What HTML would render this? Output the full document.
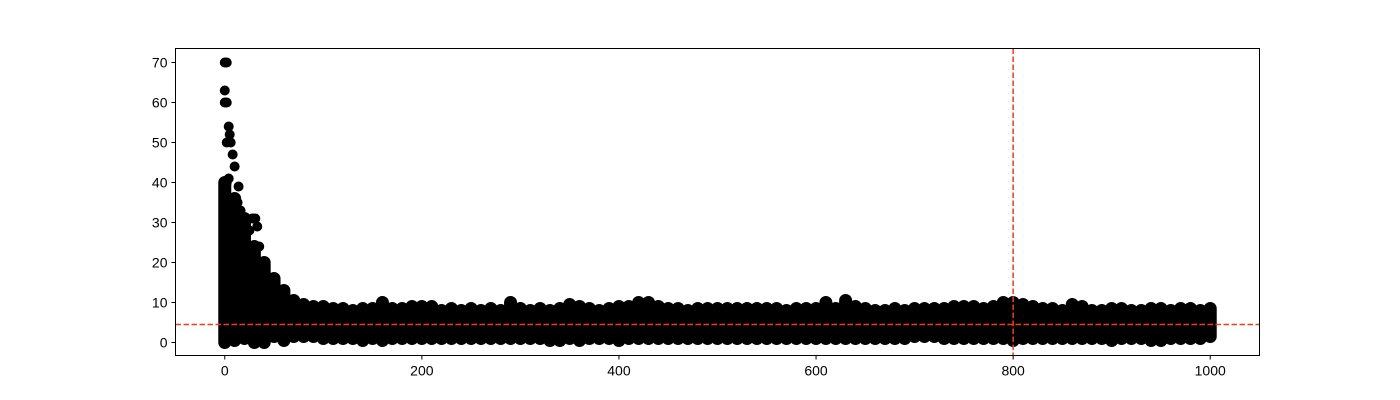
<!DOCTYPE html>
<html><head><meta charset="utf-8"><style>
html,body{margin:0;padding:0;background:#fff;width:1400px;height:400px;overflow:hidden}
svg text{font-family:"Liberation Sans",sans-serif;font-size:14px;fill:#000}
</style></head><body>
<svg id="chart" width="1400" height="400" xmlns="http://www.w3.org/2000/svg">
<rect x="0" y="0" width="1400" height="400" fill="#fff"/>
<g id="marks"></g>
<g id="refs"></g>
<rect x="175.5" y="48.5" width="1084" height="307" fill="none" stroke="#000" stroke-width="1"/>
<g id="xticks"></g>
<g id="yticks"></g>
</svg>
<script>
const binX = [0,10,20,30,40,50,60,70,80,90,100,110,120,130,140,150,160,170,180,190,200,210,220,230,240,250,260,270,280,290,300,310,320,330,340,350,360,370,380,390,400,410,420,430,440,450,460,470,480,490,500,510,520,530,540,550,560,570,580,590,600,610,620,630,640,650,660,670,680,690,700,710,720,730,740,750,760,770,780,790,800,810,820,830,840,850,860,870,880,890,900,910,920,930,940,950,960,970,980,990,1000];
const binHi = [40,36,31,24,20,16,13,10.5,9.5,9,9,8.5,8.5,8,8.5,8.5,10,8.5,8.5,9,9,9,8,8.5,8,8.5,8,8.5,8,10,8.5,8,8.5,8,8.5,9.5,9,8.5,8,8.5,9,9,10,10,9,8.5,8.5,8,8.5,8.5,8.5,8.5,8.5,8.5,8.5,8.5,8.5,8,8.5,8.5,8.5,10,8.5,10.5,9,8.5,8,8,8.5,8,8.5,8.5,8.5,8.5,9,9,9,8.5,9,10,10,9.5,9,8.5,8.5,8,9.5,9,8,8,8.5,8.5,8,8,8.5,8.5,8,8.5,8.5,8,8.5];
const binLo = [0,0.5,1,0,0,1.5,0.5,1.5,1.5,1.5,1,1,1,1,0.5,1,0.5,1,1,1,1,1,1,1,1,1,1,1,1,1,1,1,1,0.5,0.5,1,0.5,1,1,1,0.5,1,1,1,1,1,1,1,1,1,1,1,1,1,1,1,1,1,1,1,1,1,1,1,1,1,1,1,1,1,1.5,1.5,1.5,1,1,1,1,1,1,1,0.5,1,1,1,1,1,1,1,1,1,0.5,1,1,1,0.5,0.5,1,1,1,1,1.5];
const spikeX = [0,2,0,0,2,4,5,2,6,8,10,2,4,14,13,16,28,31,33,35,20,25,5,8,12,18];
const spikeY = [70,70,63,60,60,54,52,50,50,47,44,40,41,39,35,33,31,31,29,24,30,28,36,33,30,26];
const xTicks = [0,200,400,600,800,1000];
const yTicks = [0,10,20,30,40,50,60,70];
const hLine = 4.5, vLine = 800;
const NS="http://www.w3.org/2000/svg";
const L=175.5,R=1259.5,T=48.5,B=355.5, X0=-50,X1=1050,Y0=-3.25,Y1=73.5;
const sx=v=>L+(v-X0)/(X1-X0)*(R-L);
const sy=v=>B-(v-Y0)/(Y1-Y0)*(B-T);
const marks=document.getElementById('marks');
function mk(tag,attrs,parent){const e=document.createElementNS(NS,tag);for(const k in attrs)e.setAttribute(k,attrs[k]);parent.appendChild(e);return e;}
binX.forEach((x,i)=>{
  const e=mk('line',{x1:sx(x),x2:sx(x),y1:sy(binLo[i]),y2:sy(binHi[i]),stroke:'#000','stroke-width':13,'stroke-linecap':'round'},marks);
  
  
});
spikeX.forEach((x,i)=>{
  const e=mk('circle',{cx:sx(x),cy:sy(spikeY[i]),r:5,fill:'#000'},marks);
  
  
});
const refs=document.getElementById('refs');
let h=mk('line',{x1:L,x2:R,y1:sy(hLine),y2:sy(hLine),stroke:'#f03c1e','stroke-width':1.5,'stroke-dasharray':'5.5,2.5'},refs);


let v=mk('line',{x1:sx(vLine),x2:sx(vLine),y1:T,y2:B,stroke:'#f03c1e','stroke-width':1.5,'stroke-dasharray':'5.5,2.5'},refs);


const xg=document.getElementById('xticks');
xTicks.forEach(t=>{
  const l=mk('line',{x1:sx(t),x2:sx(t),y1:B,y2:B+4,stroke:'#000'},xg);
  
  
  const tx=mk('text',{x:sx(t),y:B+20,'text-anchor':'middle'},xg);
  tx.textContent=t;
  
  
});
const yg=document.getElementById('yticks');
yTicks.forEach(t=>{
  const l=mk('line',{x1:L-4,x2:L,y1:sy(t),y2:sy(t),stroke:'#000'},yg);
  
  
  const tx=mk('text',{x:L-8,y:sy(t)+5,'text-anchor':'end'},yg);
  tx.textContent=t;
  
  
});
</script>
</body></html>
